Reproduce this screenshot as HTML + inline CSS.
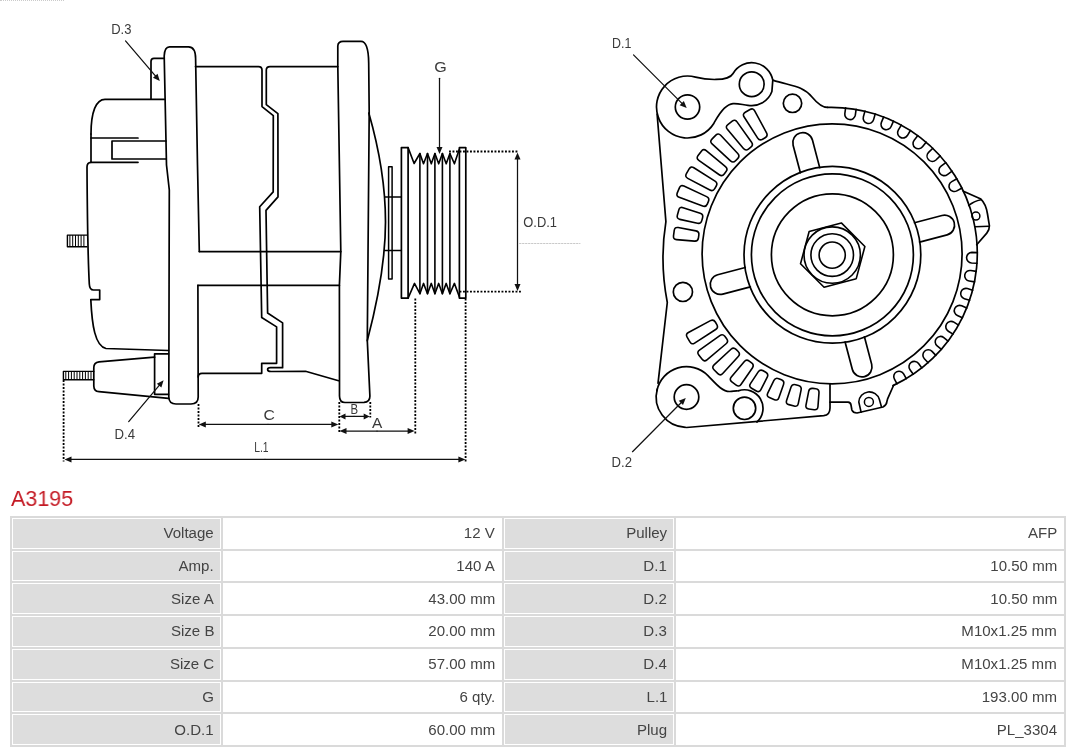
<!DOCTYPE html>
<html><head><meta charset="utf-8">
<style>
html,body{margin:0;padding:0;background:#fff;width:1080px;height:753px;overflow:hidden;position:relative;font-family:"Liberation Sans",sans-serif;}
svg{position:absolute;left:0;top:0;will-change:transform;}
.tbl{position:absolute;left:10px;top:516px;width:1056px;height:231px;background:#dadada;}
.c{position:absolute;box-sizing:border-box;border:1px solid #fff;display:flex;align-items:center;justify-content:flex-end;padding-right:6px;font-size:14px;color:#444;}
.c span{display:inline-block;transform:scaleX(1.075);transform-origin:100% 50%;will-change:transform;}
.lab{background:#dddddd;}
.val{background:#fff;}
.title{position:absolute;left:11px;top:486px;font-size:21.8px;color:#c41a24;transform:scaleX(0.985);transform-origin:0 50%;will-change:transform;}
</style></head><body>
<div style="position:absolute;left:0;top:0;width:64px;height:2px;border-top:1px dotted #999;opacity:0.5"></div>
<svg width="1080" height="480" viewBox="0 0 1080 480" fill="none" stroke="#000" stroke-linecap="round" stroke-linejoin="round">
<path d="M91,134 C91,112 96,99.3 105,99.3 L164.5,99.3" stroke-width="1.7" />
<line x1="91" y1="134" x2="91" y2="162" stroke-width="1.7" />
<line x1="91" y1="138" x2="138" y2="138" stroke-width="1.7" />
<path d="M166,141 L112,141 L112,159 L166,159" stroke-width="1.7" />
<line x1="91" y1="162.3" x2="138" y2="162.3" stroke-width="1.7" />
<path d="M164,58.4 L154,58.4 Q151,58.4 151,61.5 L151,98.7" stroke-width="1.7" />
<path d="M91,162.3 Q87,162.5 87,167 Q87.5,250 89.3,284 Q89.6,290 93.5,290 L99.7,290 L99.7,299.6 L90.8,299.6 C92,325 95,346 106,348.5 L168.5,350.5" stroke-width="1.7" />
<path d="M86.9,235.1 L67.4,235.1 L67.4,246.7 L86.9,246.7" stroke-width="1.4" />
<line x1="69.9" y1="235.5" x2="69.9" y2="246.3" stroke-width="1.0" />
<line x1="72.7" y1="235.5" x2="72.7" y2="246.3" stroke-width="1.0" />
<line x1="75.5" y1="235.5" x2="75.5" y2="246.3" stroke-width="1.0" />
<line x1="78.3" y1="235.5" x2="78.3" y2="246.3" stroke-width="1.0" />
<line x1="81.1" y1="235.5" x2="81.1" y2="246.3" stroke-width="1.0" />
<line x1="83.9" y1="235.5" x2="83.9" y2="246.3" stroke-width="1.0" />
<path d="M168.5,353.8 L154.6,353.8 L154.6,394.3 L168.5,394.3" stroke-width="1.7" />
<path d="M154.6,357.2 L99,361.8 Q93.8,362.3 93.8,367.5 L93.8,386 Q94,391.5 99,391.7 L168.5,398.3" stroke-width="1.7" />
<path d="M93.8,371.4 L63.4,371.4 L63.4,379.7 L93.8,379.7" stroke-width="1.4" />
<line x1="65.8" y1="371.8" x2="65.8" y2="379.3" stroke-width="1.0" />
<line x1="68.6" y1="371.8" x2="68.6" y2="379.3" stroke-width="1.0" />
<line x1="71.4" y1="371.8" x2="71.4" y2="379.3" stroke-width="1.0" />
<line x1="74.2" y1="371.8" x2="74.2" y2="379.3" stroke-width="1.0" />
<line x1="77" y1="371.8" x2="77" y2="379.3" stroke-width="1.0" />
<line x1="79.8" y1="371.8" x2="79.8" y2="379.3" stroke-width="1.0" />
<line x1="82.6" y1="371.8" x2="82.6" y2="379.3" stroke-width="1.0" />
<line x1="85.4" y1="371.8" x2="85.4" y2="379.3" stroke-width="1.0" />
<line x1="88.2" y1="371.8" x2="88.2" y2="379.3" stroke-width="1.0" />
<line x1="91" y1="371.8" x2="91" y2="379.3" stroke-width="1.0" />
<path d="M197.9,285.4 L198.2,397 Q198.2,404 191,404 L176,404 Q169,404 168.8,397 L169.3,190 L166.5,165 L164.2,56 Q164.6,46.8 169.5,46.8 L188.5,46.8 Q195.6,47 195.6,58.5 L197.5,165 L199.3,251.6" stroke-width="1.7" />
<path d="M195.5,66.6 L258.5,66.6 Q262,66.6 262,70 L262,106.6 L273.3,115.6 L273.2,191.9 L259.7,206.8 L261.7,317.5 L276.6,326.9 L276.6,363.3 L261.7,363.3 L261.7,373.3 L202,373.3 Q198.2,373.3 198.2,377" stroke-width="1.7" />
<path d="M337.8,66.6 L270,66.6 Q266.3,66.6 266.3,70 L266.3,104.6 L277.9,113.6 L278,196.9 L266,210.4 L267.6,313 L282.6,322.9 L282.6,367.7 L270.5,367.7 Q267.6,367.7 267.6,369.5 Q267.6,371.5 271,371.5 L305.5,371.3 L338.6,380.7" stroke-width="1.7" />
<line x1="199.3" y1="251.6" x2="340.8" y2="251.6" stroke-width="1.7" />
<line x1="197.9" y1="285.4" x2="339.4" y2="285.4" stroke-width="1.7" />
<path d="M337.8,66 L337.8,46 Q338,41.3 343,41.3 L361,41.3 Q368.5,41.3 368.7,63 L369.2,113 L367.3,340.6 L369.9,396 Q370,402 364,402.3 L345,402.5 Q339.5,402.5 339.5,396 L339.4,285.4 L340.8,251.6 L337.8,66" stroke-width="1.7" />
<path d="M368.8,113 C378,145 385.5,185 385.5,222 C385.5,262 378,300 367.3,340.6" stroke-width="1.7" />
<path d="M388.6,166.8 L392.1,166.8 L392.1,279 L388.6,279 Z" stroke-width="1.5" />
<line x1="384.8" y1="197" x2="401.4" y2="197" stroke-width="1.5" />
<line x1="384.6" y1="250.4" x2="401.4" y2="250.4" stroke-width="1.5" />
<path d="M408.1,298.1 L401.4,298.1 L401.4,147.6 L408.1,147.6 L408.1,298.1" stroke-width="1.7" />
<path d="M459.4,298.1 L465.8,298.1 L465.8,147.6 L459.4,147.6 L459.4,298.1" stroke-width="1.7" />
<path d="M408.1 147.6 L414.1 163.5 L419.9 153.5 L423.5 163.8 L427.5 153.5 L431.3 163.8 L434.9 153.5 L438.7 163.8 L442.4 153.5 L446.2 163.8 L449.9 153.5 L454.4 163.8 L459.4 149" stroke-width="1.6" />
<path d="M408.1 298.1 L414.5 283.4 L419.9 293.7 L423.5 283.4 L427.5 293.7 L431.3 283.4 L434.9 293.7 L438.7 283.4 L442.4 293.7 L446.2 283.4 L449.9 293.7 L454.4 283.4 L459.4 297" stroke-width="1.6" />
<line x1="419.9" y1="153.5" x2="419.9" y2="293.7" stroke-width="1.6" />
<line x1="427.5" y1="153.5" x2="427.5" y2="293.7" stroke-width="1.6" />
<line x1="434.9" y1="153.5" x2="434.9" y2="293.7" stroke-width="1.6" />
<line x1="442.4" y1="153.5" x2="442.4" y2="293.7" stroke-width="1.6" />
<line x1="449.9" y1="153.5" x2="449.9" y2="293.7" stroke-width="1.6" />
<line x1="125.5" y1="40.9" x2="157.53" y2="78.44" stroke-width="1.25" stroke="#111"/>
<path d="M159.8 81.1 L152.97 77.72 L157.54 73.83 Z" fill="#111" stroke="none"/>
<line x1="439.5" y1="78.3" x2="439.5" y2="150.5" stroke-width="1.25" stroke="#111"/>
<path d="M439.5 154 L436.5 147 L442.5 147 Z" fill="#111" stroke="none"/>
<line x1="128.7" y1="421.6" x2="161.34" y2="382.97" stroke-width="1.25" stroke="#111"/>
<path d="M163.6 380.3 L161.37 387.58 L156.79 383.71 Z" fill="#111" stroke="none"/>
<line x1="449" y1="151.5" x2="519" y2="151.5" stroke-width="1.8" stroke-dasharray="1.9 1.6" stroke-linecap="butt"/>
<line x1="459.5" y1="291.6" x2="521" y2="291.6" stroke-width="1.8" stroke-dasharray="1.9 1.6" stroke-linecap="butt"/>
<line x1="517.5" y1="221" x2="517.5" y2="156" stroke-width="1.25" stroke="#111"/>
<path d="M517.5 152.5 L520.5 159.5 L514.5 159.5 Z" fill="#111" stroke="none"/>
<line x1="517.5" y1="221" x2="517.5" y2="287.5" stroke-width="1.25" stroke="#111"/>
<path d="M517.5 291 L514.5 284 L520.5 284 Z" fill="#111" stroke="none"/>
<line x1="519.5" y1="243.5" x2="580" y2="243.5" stroke="#bbb" stroke-width="0.8" stroke-dasharray="1.5 1.5"/>
<line x1="63.6" y1="380" x2="63.6" y2="461.4" stroke-width="1.8" stroke-dasharray="1.9 1.6" stroke-linecap="butt"/>
<line x1="198.5" y1="404" x2="198.5" y2="427.5" stroke-width="1.8" stroke-dasharray="1.9 1.6" stroke-linecap="butt"/>
<line x1="339.3" y1="402" x2="339.3" y2="433.5" stroke-width="1.8" stroke-dasharray="1.9 1.6" stroke-linecap="butt"/>
<line x1="370.3" y1="402" x2="370.3" y2="417.5" stroke-width="1.8" stroke-dasharray="1.9 1.6" stroke-linecap="butt"/>
<line x1="415.3" y1="298.5" x2="415.3" y2="434.3" stroke-width="1.8" stroke-dasharray="1.9 1.6" stroke-linecap="butt"/>
<line x1="465.6" y1="298.5" x2="465.6" y2="461.4" stroke-width="1.8" stroke-dasharray="1.9 1.6" stroke-linecap="butt"/>
<line x1="268" y1="424.45" x2="202.3" y2="424.45" stroke-width="1.25" stroke="#111"/>
<path d="M198.8 424.45 L205.8 421.45 L205.8 427.45 Z" fill="#111" stroke="none"/>
<line x1="268" y1="424.45" x2="334.8" y2="424.45" stroke-width="1.25" stroke="#111"/>
<path d="M338.3 424.45 L331.3 427.45 L331.3 421.45 Z" fill="#111" stroke="none"/>
<line x1="354" y1="416.45" x2="342.5" y2="416.45" stroke-width="1.25" stroke="#111"/>
<path d="M339.5 416.45 L345.5 413.45 L345.5 419.45 Z" fill="#111" stroke="none"/>
<line x1="354" y1="416.45" x2="366.7" y2="416.45" stroke-width="1.25" stroke="#111"/>
<path d="M369.7 416.45 L363.7 419.45 L363.7 413.45 Z" fill="#111" stroke="none"/>
<line x1="377" y1="431" x2="343" y2="431" stroke-width="1.25" stroke="#111"/>
<path d="M339.5 431 L346.5 428 L346.5 434 Z" fill="#111" stroke="none"/>
<line x1="377" y1="431" x2="411.1" y2="431" stroke-width="1.25" stroke="#111"/>
<path d="M414.6 431 L407.6 434 L407.6 428 Z" fill="#111" stroke="none"/>
<line x1="265" y1="459.4" x2="68" y2="459.4" stroke-width="1.25" stroke="#111"/>
<path d="M64.5 459.4 L71.5 456.4 L71.5 462.4 Z" fill="#111" stroke="none"/>
<line x1="265" y1="459.4" x2="461.9" y2="459.4" stroke-width="1.25" stroke="#111"/>
<path d="M465.4 459.4 L458.4 462.4 L458.4 456.4 Z" fill="#111" stroke="none"/>
<circle cx="832.1" cy="253.8" r="130" stroke-width="1.7"/>
<circle cx="832.4" cy="254.8" r="88.4" stroke-width="1.7"/>
<circle cx="832.4" cy="254.8" r="81" stroke-width="1.7"/>
<circle cx="832.4" cy="254.8" r="61" stroke-width="1.7"/>
<path d="M864.87 246.48 L856.25 278.65 L824.08 287.27 L800.53 263.72 L809.15 231.55 L841.32 222.93 Z" stroke-width="1.6" />
<circle cx="832.2" cy="255.1" r="28.2" stroke-width="1.6"/>
<circle cx="832.2" cy="255.1" r="21.3" stroke-width="1.6"/>
<circle cx="832.2" cy="255.1" r="13.1" stroke-width="1.6"/>
<path d="M919.55 242.12 L947.11 234.84 A10,10 0 0 0 942 215.5 L914.44 222.78" stroke-width="1.7" />
<path d="M845.08 341.95 L852.36 369.51 A10,10 0 0 0 871.7 364.4 L864.42 336.84" stroke-width="1.7" />
<path d="M745.25 267.48 L717.69 274.76 A10,10 0 0 0 722.8 294.1 L750.36 286.82" stroke-width="1.7" />
<path d="M819.72 167.65 L812.44 140.09 A10,10 0 0 0 793.1 145.2 L800.38 172.76" stroke-width="1.7" />
<path d="M762.59 139.24 Q759.57 141.02 757.68 138.07 L744.15 117.02 Q742.26 114.08 745.27 112.3 L750.01 109.51 Q753.03 107.74 754.68 110.82 L766.53 132.86 Q768.19 135.94 765.17 137.72 Z" stroke-width="1.6" />
<path d="M748.47 149.05 Q745.71 151.19 743.46 148.51 L727.36 129.35 Q725.11 126.67 727.87 124.53 L732.22 121.16 Q734.98 119.01 737.02 121.86 L751.57 142.22 Q753.61 145.06 750.84 147.21 Z" stroke-width="1.6" />
<path d="M735.55 160.74 Q733.08 163.22 730.51 160.85 L712.08 143.93 Q709.5 141.56 711.96 139.08 L715.84 135.17 Q718.31 132.69 720.69 135.25 L737.75 153.57 Q740.13 156.13 737.66 158.61 Z" stroke-width="1.6" />
<path d="M724.24 174 Q722.12 176.78 719.26 174.76 L698.8 160.35 Q695.94 158.33 698.06 155.55 L701.4 151.18 Q703.53 148.4 706.22 150.64 L725.5 166.6 Q728.19 168.83 726.07 171.61 Z" stroke-width="1.6" />
<path d="M714.74 188.6 Q712.99 191.63 709.89 190 L687.75 178.34 Q684.65 176.71 686.4 173.68 L689.15 168.92 Q690.9 165.89 693.86 167.75 L715.03 181.1 Q717.99 182.97 716.24 186 Z" stroke-width="1.6" />
<path d="M707.28 204.09 Q705.93 207.32 702.65 206.09 L679.2 197.34 Q675.92 196.12 677.27 192.89 L679.4 187.82 Q680.75 184.59 683.92 186.06 L706.61 196.61 Q709.79 198.09 708.44 201.32 Z" stroke-width="1.6" />
<path d="M701.79 220.62 Q700.87 224 697.45 223.25 L679.84 219.36 Q676.42 218.61 677.35 215.23 L678.8 209.93 Q679.72 206.55 683.05 207.64 L700.18 213.26 Q703.5 214.35 702.58 217.73 Z" stroke-width="1.6" />
<path d="M698.45 237.96 Q697.97 241.43 694.48 241.13 L676.52 239.58 Q673.03 239.28 673.51 235.81 L674.25 230.36 Q674.73 226.89 678.17 227.54 L695.89 230.88 Q699.33 231.52 698.85 234.99 Z" stroke-width="1.6" />
<path d="M716.84 324.61 Q718.62 327.63 715.67 329.52 L694.62 343.05 Q691.68 344.94 689.9 341.93 L687.11 337.19 Q685.34 334.17 688.42 332.52 L710.46 320.67 Q713.54 319.01 715.32 322.03 Z" stroke-width="1.6" />
<path d="M726.65 338.73 Q728.79 341.49 726.11 343.74 L706.95 359.84 Q704.27 362.09 702.13 359.33 L698.76 354.98 Q696.61 352.22 699.46 350.18 L719.82 335.63 Q722.66 333.59 724.81 336.36 Z" stroke-width="1.6" />
<path d="M738.17 351.48 Q740.65 353.96 738.28 356.54 L722.72 373.51 Q720.36 376.09 717.88 373.62 L713.98 369.73 Q711.5 367.26 714.08 364.89 L730.99 349.27 Q733.57 346.9 736.04 349.37 Z" stroke-width="1.6" />
<path d="M751.6 362.96 Q754.38 365.08 752.38 367.96 L740.97 384.42 Q738.97 387.29 736.19 385.17 L731.82 381.82 Q729.04 379.7 731.29 377.02 L744.18 361.69 Q746.43 359.01 749.21 361.13 Z" stroke-width="1.6" />
<path d="M765.79 372.23 Q768.81 373.99 767.24 377.12 L760.91 389.65 Q759.33 392.77 756.31 391.01 L751.55 388.24 Q748.53 386.48 750.46 383.57 L758.23 371.88 Q760.17 368.96 763.2 370.72 Z" stroke-width="1.6" />
<path d="M781.47 379.83 Q784.69 381.19 783.53 384.49 L778.87 397.73 Q777.71 401.03 774.48 399.68 L769.41 397.54 Q766.19 396.19 767.73 393.05 L773.93 380.45 Q775.48 377.31 778.7 378.67 Z" stroke-width="1.6" />
<path d="M798.45 385.47 Q801.83 386.39 801.11 389.81 L798.25 403.56 Q797.53 406.98 794.15 406.06 L788.84 404.62 Q785.47 403.7 786.58 400.39 L791.06 387.08 Q792.18 383.77 795.56 384.68 Z" stroke-width="1.6" />
<path d="M815.8 388.78 Q819.27 389.25 819 392.74 L817.95 406.74 Q817.69 410.23 814.22 409.76 L808.77 409.02 Q805.3 408.56 805.98 405.12 L808.68 391.35 Q809.36 387.91 812.83 388.38 Z" stroke-width="1.6" />
<path d="M856.11 109.33 L855.32 115.17 A5.3,5.3 0 0 1 844.82 113.75 L845.61 107.91" stroke-width="1.6" />
<path d="M875.18 113.95 L873.61 119.64 A5.3,5.3 0 0 1 863.39 116.82 L864.96 111.13" stroke-width="1.6" />
<path d="M893.46 121.09 L891.14 126.51 A5.3,5.3 0 0 1 881.39 122.35 L883.71 116.93" stroke-width="1.6" />
<path d="M910.4 130.47 L907.38 135.54 A5.3,5.3 0 0 1 898.27 130.13 L901.28 125.06" stroke-width="1.6" />
<path d="M926.14 142.17 L922.48 146.8 A5.3,5.3 0 0 1 914.17 140.21 L917.83 135.59" stroke-width="1.6" />
<path d="M940.18 155.88 L935.92 159.97 A5.3,5.3 0 0 1 928.57 152.34 L932.83 148.24" stroke-width="1.6" />
<path d="M952.1 171.14 L947.35 174.63 A5.3,5.3 0 0 1 941.07 166.09 L945.83 162.59" stroke-width="1.6" />
<path d="M962.02 188.06 L956.84 190.89 A5.3,5.3 0 0 1 951.77 181.58 L956.95 178.76" stroke-width="1.6" />
<path d="M977.06 263.18 L971.56 263.01 A5.3,5.3 0 0 1 971.9 252.42 L977.39 252.59" stroke-width="1.6" />
<path d="M974.57 281.87 L969.15 281 A5.3,5.3 0 0 1 970.84 270.53 L976.27 271.41" stroke-width="1.6" />
<path d="M969.62 300.33 L964.35 298.75 A5.3,5.3 0 0 1 967.4 288.6 L972.67 290.18" stroke-width="1.6" />
<path d="M962.41 317.75 L957.39 315.51 A5.3,5.3 0 0 1 961.72 305.83 L966.74 308.08" stroke-width="1.6" />
<path d="M953.02 334.1 L948.33 331.23 A5.3,5.3 0 0 1 953.87 322.19 L958.55 325.07" stroke-width="1.6" />
<path d="M941.43 349.3 L937.15 345.84 A5.3,5.3 0 0 1 943.82 337.6 L948.1 341.06" stroke-width="1.6" />
<path d="M928.15 362.68 L924.35 358.7 A5.3,5.3 0 0 1 932.03 351.39 L935.82 355.37" stroke-width="1.6" />
<path d="M913.25 374.25 L910 369.81 A5.3,5.3 0 0 1 918.56 363.55 L921.81 367.99" stroke-width="1.6" />
<path d="M896.99 383.79 L894.34 378.97 A5.3,5.3 0 0 1 903.63 373.87 L906.28 378.69" stroke-width="1.6" />
<path d="M827.48 107.35 A146,146 0 0 1 893 385.62" stroke-width="1.7" />
<circle cx="687.5" cy="107" r="12.2" stroke-width="1.7"/>
<circle cx="751.7" cy="84.2" r="12.4" stroke-width="1.7"/>
<circle cx="792.5" cy="103.3" r="9.2" stroke-width="1.7"/>
<circle cx="682.9" cy="291.9" r="9.6" stroke-width="1.7"/>
<path d="M658.37 117.6 A31,31 0 0 1 695.52 77.06 C705.18 79.65 728.08 82.11 733.08 73.45 A21.5,21.5 0 0 1 772.8 80.1 C790 86 802 85 812 97 C817 103 821.5 107.5 827.5 107.4" stroke-width="1.7" />
<path d="M658.37 117.6 A31,31 0 0 0 713.79 123.43 C716.44 119.19 723 104.5 733 103.6 C738 103.2 742 104.6 747.97 105.37 A21.5,21.5 0 0 0 771.9 91.55 L772.8 80.1" stroke-width="1.7" />
<path d="M657.1,114 L665.9,221.6 Q659.4,262 667.3,302.5 L658,383.3" stroke-width="1.7" />
<circle cx="686.5" cy="397" r="12.3" stroke-width="1.7"/>
<circle cx="744.5" cy="408.3" r="11.2" stroke-width="1.7"/>
<path d="M657.23 389.16 A30.3,30.3 0 0 0 685.44 427.28 " stroke-width="1.7" />
<path d="M656.86 390.7 A30.3,30.3 0 0 1 707.93 375.57 C714.29 381.94 722 392 730 391.5 C735 391 738 390.5 738.17 390.92 A18.5,18.5 0 0 1 756.88 422.05" stroke-width="1.7" />
<path d="M686.5,427.5 L823.7,415.7 Q830,415 830,408 L830,384" stroke-width="1.7" />
<path d="M830,402.2 L848.1,402.2 Q850.6,402.5 851,405 L851.9,410 Q853,413 857,413 L883,407 Q886.7,405 886.9,401.5 L887.6,398.9 L893.5,385.5" stroke-width="1.7" />
<circle cx="868.9" cy="401.9" r="4.5" stroke-width="1.5"/>
<path d="M861.1,412.2 L858.8,402 A10.5,10.5 0 0 1 879.4,399.5 L881.5,407" stroke-width="1.6" />
<path d="M963.4,191.2 L980.9,199.1 Q986,204 987.5,214 L989.4,225.7 Q989.5,230 986.8,233.1 L976.7,244.8" stroke-width="1.7" />
<path d="M968.7,205.5 Q974,201 980.9,199.7" stroke-width="1.6" />
<path d="M975.1,226.8 L988.9,226.2" stroke-width="1.6" />
<circle cx="975.9" cy="216.1" r="4" stroke-width="1.5"/>
<line x1="633.5" y1="54.9" x2="684.23" y2="105.63" stroke-width="1.25" stroke="#111"/>
<path d="M686.7 108.1 L679.63 105.27 L683.87 101.03 Z" fill="#111" stroke="none"/>
<line x1="632.5" y1="451.7" x2="683.33" y2="400.48" stroke-width="1.25" stroke="#111"/>
<path d="M685.8 398 L683 405.08 L678.74 400.85 Z" fill="#111" stroke="none"/>
<g fill="#3a3a3a" stroke="none" font-family="Liberation Sans, sans-serif">
<text x="111.2" y="34.4" font-size="15" textLength="20.2" lengthAdjust="spacingAndGlyphs">D.3</text>
<text x="434.3" y="71.9" font-size="15" textLength="12.5" lengthAdjust="spacingAndGlyphs">G</text>
<text x="523.3" y="226.9" font-size="15" textLength="33.7" lengthAdjust="spacingAndGlyphs">O.D.1</text>
<text x="263.5" y="419.6" font-size="15" textLength="11.4" lengthAdjust="spacingAndGlyphs">C</text>
<text x="350.6" y="413.6" font-size="15" textLength="7.6" lengthAdjust="spacingAndGlyphs">B</text>
<text x="372" y="428" font-size="15" textLength="10.3" lengthAdjust="spacingAndGlyphs">A</text>
<text x="254.2" y="452" font-size="15" textLength="14.4" lengthAdjust="spacingAndGlyphs">L.1</text>
<text x="114.5" y="438.6" font-size="15" textLength="20.5" lengthAdjust="spacingAndGlyphs">D.4</text>
<text x="612" y="47.9" font-size="15" textLength="19.3" lengthAdjust="spacingAndGlyphs">D.1</text>
<text x="611.6" y="466.7" font-size="15" textLength="20.4" lengthAdjust="spacingAndGlyphs">D.2</text>
</g>
</svg>
<div class="title">A3195</div>
<div class="tbl"></div>
<div class="c lab" style="left:12px;top:518.000px;width:209px;height:30.714px"><span>Voltage</span></div>
<div class="c val" style="left:223px;top:518.000px;width:279px;height:30.714px"><span>12 V</span></div>
<div class="c lab" style="left:504px;top:518.000px;width:170px;height:30.714px"><span>Pulley</span></div>
<div class="c val" style="left:676px;top:518.000px;width:388px;height:30.714px"><span>AFP</span></div>
<div class="c lab" style="left:12px;top:550.714px;width:209px;height:30.714px"><span>Amp.</span></div>
<div class="c val" style="left:223px;top:550.714px;width:279px;height:30.714px"><span>140 A</span></div>
<div class="c lab" style="left:504px;top:550.714px;width:170px;height:30.714px"><span>D.1</span></div>
<div class="c val" style="left:676px;top:550.714px;width:388px;height:30.714px"><span>10.50 mm</span></div>
<div class="c lab" style="left:12px;top:583.428px;width:209px;height:30.714px"><span>Size A</span></div>
<div class="c val" style="left:223px;top:583.428px;width:279px;height:30.714px"><span>43.00 mm</span></div>
<div class="c lab" style="left:504px;top:583.428px;width:170px;height:30.714px"><span>D.2</span></div>
<div class="c val" style="left:676px;top:583.428px;width:388px;height:30.714px"><span>10.50 mm</span></div>
<div class="c lab" style="left:12px;top:616.142px;width:209px;height:30.714px"><span>Size B</span></div>
<div class="c val" style="left:223px;top:616.142px;width:279px;height:30.714px"><span>20.00 mm</span></div>
<div class="c lab" style="left:504px;top:616.142px;width:170px;height:30.714px"><span>D.3</span></div>
<div class="c val" style="left:676px;top:616.142px;width:388px;height:30.714px"><span>M10x1.25 mm</span></div>
<div class="c lab" style="left:12px;top:648.856px;width:209px;height:30.714px"><span>Size C</span></div>
<div class="c val" style="left:223px;top:648.856px;width:279px;height:30.714px"><span>57.00 mm</span></div>
<div class="c lab" style="left:504px;top:648.856px;width:170px;height:30.714px"><span>D.4</span></div>
<div class="c val" style="left:676px;top:648.856px;width:388px;height:30.714px"><span>M10x1.25 mm</span></div>
<div class="c lab" style="left:12px;top:681.570px;width:209px;height:30.714px"><span>G</span></div>
<div class="c val" style="left:223px;top:681.570px;width:279px;height:30.714px"><span>6 qty.</span></div>
<div class="c lab" style="left:504px;top:681.570px;width:170px;height:30.714px"><span>L.1</span></div>
<div class="c val" style="left:676px;top:681.570px;width:388px;height:30.714px"><span>193.00 mm</span></div>
<div class="c lab" style="left:12px;top:714.284px;width:209px;height:30.714px"><span>O.D.1</span></div>
<div class="c val" style="left:223px;top:714.284px;width:279px;height:30.714px"><span>60.00 mm</span></div>
<div class="c lab" style="left:504px;top:714.284px;width:170px;height:30.714px"><span>Plug</span></div>
<div class="c val" style="left:676px;top:714.284px;width:388px;height:30.714px"><span>PL_3304</span></div>
</body></html>
